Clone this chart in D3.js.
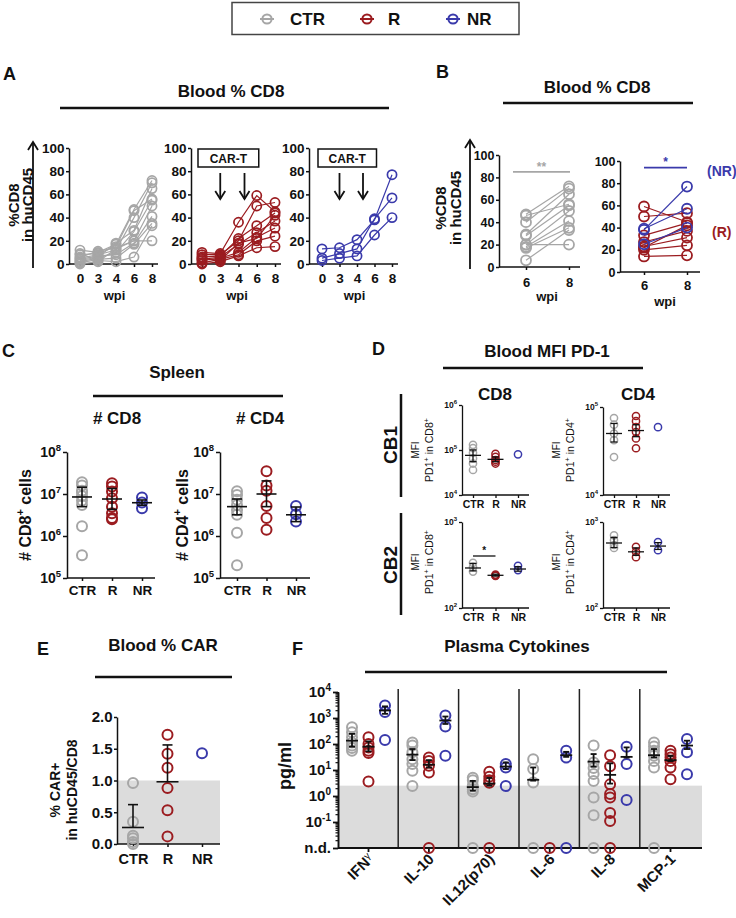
<!DOCTYPE html>
<html><head><meta charset="utf-8">
<script src="https://cdn.jsdelivr.net/npm/d3@7/dist/d3.min.js"></script>
<style>
html,body{margin:0;padding:0;background:#fff;}
svg{display:block;font-family:"Liberation Sans",Arial,Helvetica,sans-serif;}
</style></head><body>
<svg id="chart" width="736" height="918"></svg>
<script>
// ================= DATA =================
const groups = ["CTR","R","NR"];
const groupColors = ["#a6a6a6","#9b1c20","#3a3aab"];

// A / B : %CD8 in huCD45, one row per mouse, columns = weeks post injection
const wpi = ["0","3","4","6","8"];
const pctTicks = [0,20,40,60,80,100];
const ctrCD8 = [
  [12,10,17,47,72],
  [8,9,15,46,56],
  [5,8,12,40,70],
  [3,6,18,29,65],
  [2,5,10,28,55],
  [6,11,14,20,50],
  [4,7,8,18,41],
  [1,4,5,17,35],
  [9,3,2,6,33],
  [0,2,13,20,20]
];
const rCD8 = [
  [10,9,36,59,45],
  [8,8,20,50,53],
  [6,7,22,33,44],
  [4,6,17,27,37],
  [3,5,10,23,31],
  [1,4,8,20,24],
  [0,2,7,14,15],
  [5,3,18,22,42]
];
const nrCD8 = [
  [13,14,21,38,77],
  [5,9,13,39,57],
  [3,5,7,25,40]
];
const wkB = ["6","8"];

// C : spleen cell counts
const spleenTicks = [1e5,1e6,1e7,1e8];
const spleenCD8_CTR = [1.9e7,1.6e7,1.2e7,1.1e7,9e6,7e6,5.5e6,1.7e6,3.5e5];
const spleenCD8_R = [1.8e7,1.5e7,1.15e7,7.9e6,5e6,3.5e6,2.7e6,2.5e6];
const spleenCD8_NR = [8.3e6,6.3e6,4.6e6];
const spleenCD8Mean = [8.5e6,7.6e6,6.2e6];
const spleenCD8Lo = [5e6,4.3e6,5.4e6];
const spleenCD8Hi = [1.45e7,1.35e7,7.2e6];
const spleenCD4_CTR = [1.17e7,9.5e6,7.3e6,5.5e6,4.1e6,3.2e6,1.2e6,2e5];
const spleenCD4_R = [3.5e7,1.6e7,1.2e7,5.2e6,2.7e6,1.4e6];
const spleenCD4_NR = [5.2e6,3.3e6,2.2e6];
const spleenCD4Mean = [5e6,1e7,3.2e6];
const spleenCD4Lo = [3.2e6,5e6,2.2e6];
const spleenCD4Hi = [7.6e6,2.05e7,4.9e6];

// D : PD-1 MFI
const cb1CD8_CTR = [1.3e5,1.1e5,8.7e4,6.5e4,5e4,3.6e4];
const cb1CD8_R = [8.2e4,7e4,6e4,5.5e4,5e4];
const cb1CD8_NR = [8e4];
const cb1CD8Mean = [7.6e4,6.2e4,null];
const cb1CD8Lo = [5.5e4,5.5e4,null];
const cb1CD8Hi = [1.0e5,7e4,null];
const cb1CD4_CTR = [7.5e4,6.3e4,5e4,4.2e4,2.7e4];
const cb1CD4_R = [7.9e4,6.9e4,5.9e4,5.2e4,4.4e4,3.4e4];
const cb1CD4_NR = [5.9e4];
const cb1CD4Mean = [5e4,5.4e4,null];
const cb1CD4Lo = [4e4,4.6e4,null];
const cb1CD4Hi = [6.5e4,6.3e4,null];
const cb2CD8_CTR = [335,300,265];
const cb2CD8_R = [245,240,236];
const cb2CD8_NR = [310,276];
const cb2CD8Mean = [292,240,284];
const cb2CD8Lo = [270,235,268];
const cb2CD8Hi = [330,247,302];
const cb2CD4_CTR = [700,615,540,500];
const cb2CD4_R = [515,450,390];
const cb2CD4_NR = [585,470];
const cb2CD4Mean = [570,450,525];
const cb2CD4Lo = [505,410,480];
const cb2CD4Hi = [660,500,575];

// E : blood % CAR
const carTicks = [0,0.5,1,1.5,2];
const carThreshold = 1.0;
const carCTR = [0.96,0.35,0.13,0.09,0.03,0.0];
const carR = [1.72,1.42,1.2,0.88,0.53,0.12];
const carNR = [1.43];
const carMean = [0.26,0.98,null];
const carHi = [0.62,1.56,null];

// F : plasma cytokines (pg/ml), 0 = not detected
const cytokines = ["IFNγ","IL-10","IL12(p70)","IL-6","IL-8","MCP-1"];
const detectionLimit = 2.5;
const cytoTicks = [0.01,0.1,1,10,100,1000,10000];
const cytoCTR = [
  [445,282,180,115,87,70,55],
  [115,87,48,26,17,9.3,2.4],
  [5,4,2.5,1.8,1.5,0],
  [26,11,3.3,0],
  [87,19.5,12,7,3.8,0.87,0.18,0],
  [115,80,55,35,22,12.5,0]
];
const cytoR = [
  [180,100,74,55,45,3.6],
  [30,22,14.5,8,0],
  [8.5,5.5,4,3.2,0],
  [0],
  [37,14,2.8,1.2,0.87,0.22,0.11,0],
  [55,40,30,22,12.5,4.4]
];
const cytoNR = [
  [3000,1700,142],
  [1250,470,35],
  [17,12.5,2.4],
  [55,30,0],
  [79,17,0.7],
  [155,48,6.9]
];
const cytoMeanCTR = [135,39,2.2,4.2,21,37];
const cytoLoCTR = [79,24,1.6,3.9,13.6,30];
const cytoHiCTR = [245,64,3.8,12.5,41,64];
const cytoMeanR = [79,16,3.0,null,6.5,24];
const cytoLoR = [52,12.5,2.5,null,3,22];
const cytoHiR = [126,24,5,null,18,35];
const cytoMeanNR = [1950,800,13.6,37,32,87];
const cytoLoNR = [1450,590,10.8,32,30,64];
const cytoHiNR = [2800,1140,19.5,50,74,134];

// ================= HELPERS =================
const svg = d3.select("#chart");
const INK = "#111";
svg.append("rect").attr("width",736).attr("height",918).attr("fill","#fff");

function txt(x,y,s,fs,anchor="middle",weight="bold",fill=INK){
  return svg.append("text").attr("x",x).attr("y",y).attr("font-size",fs)
    .attr("text-anchor",anchor).attr("font-weight",weight).attr("fill",fill).text(s);
}
function rich(parent,parts,fs,opts={}){
  const t = parent.append("text").attr("x",opts.x||0).attr("y",opts.y||0).attr("font-size",fs)
    .attr("text-anchor",opts.anchor||"middle").attr("font-weight",opts.weight||"bold").attr("fill",opts.fill||INK);
  if(opts.transform) t.attr("transform",opts.transform);
  let raised=false;
  parts.forEach(p=>{
    const sup = typeof p !== "string";
    const ts = t.append("tspan").text(sup ? p.sup : p);
    if(sup){ ts.attr("font-size",fs*0.68); if(!raised){ ts.attr("dy",-fs*0.42); raised=true; } }
    else if(raised){ ts.attr("dy",fs*0.42); raised=false; }
  });
  return t;
}
function hrule(x1,x2,y,sw=2.5,color=INK){
  svg.append("line").attr("x1",x1).attr("x2",x2).attr("y1",y).attr("y2",y).attr("stroke",color).attr("stroke-width",sw);
}
function vrule(x,y1,y2,sw=2.5,color=INK){
  svg.append("line").attr("x1",x).attr("x2",x).attr("y1",y1).attr("y2",y2).attr("stroke",color).attr("stroke-width",sw);
}
function styleAxis(g,fs,sw=1.5){
  g.attr("font-family",null).attr("font-size",fs).attr("font-weight","bold");
  g.selectAll(".domain").attr("stroke",INK).attr("stroke-width",sw);
  g.selectAll(".tick line").attr("stroke",INK).attr("stroke-width",sw);
  g.selectAll(".tick text").attr("fill",INK);
  return g;
}
function linearYAxis(axisX,y,ticks,fs,fmt){
  const ax = d3.axisLeft(y).tickValues(ticks).tickSize(3).tickSizeOuter(0).tickPadding(1.5);
  if(fmt) ax.tickFormat(fmt);
  const g = svg.append("g").attr("transform",`translate(${axisX},0)`).call(ax);
  return styleAxis(g,fs);
}
function logYAxis(axisX,y,ticks,fs,supFs,tick=4,nd=false,sw=1.5){
  const g = svg.append("g").attr("transform",`translate(${axisX},0)`)
    .call(d3.axisLeft(y).tickValues(ticks).tickSize(tick).tickSizeOuter(0).tickPadding(2).tickFormat(()=>""));
  styleAxis(g,fs,sw);
  g.selectAll(".tick text").each(function(d){
    const t = d3.select(this);
    if(nd && d===ticks[0]){ t.text("n.d."); return; }
    t.append("tspan").text("10");
    t.append("tspan").attr("dy",-fs*0.45).attr("font-size",supFs).text(String(Math.round(Math.log10(d))));
  });
  return g;
}
function catXAxis(x0,x1,yPos,scale,fs,labelY,tick=3,sw=1.5){
  const g = svg.append("g").attr("transform",`translate(0,${yPos})`)
    .call(d3.axisBottom(scale).tickSize(tick).tickSizeOuter(0));
  styleAxis(g,fs,sw);
  g.select(".domain").remove();
  g.append("line").attr("x1",x0).attr("x2",x1).attr("stroke",INK).attr("stroke-width",sw);
  g.selectAll(".tick text").attr("y",labelY).attr("dy",null);
  return g;
}
function upArrow(x,y1,y2){
  vrule(x,y1,y2,1.8);
  svg.append("path").attr("d",`M${x-5},${y2+8}L${x},${y2}L${x+5},${y2+8}`).attr("fill","none").attr("stroke",INK).attr("stroke-width",1.8);
}
function downArrow(x,y1,y2){
  vrule(x,y1,y2,1.8);
  svg.append("path").attr("d",`M${x-5},${y2-8}L${x},${y2}L${x+5},${y2-8}`).attr("fill","none").attr("stroke",INK).attr("stroke-width",1.8);
}
function dots(xs,y,arrays,r,sw){
  arrays.forEach((arr,i)=>{
    svg.append("g").selectAll("circle").data(arr).join("circle")
      .attr("cx",xs(groups[i])).attr("cy",d=>y(d)).attr("r",r)
      .attr("fill","none").attr("stroke",groupColors[i]).attr("stroke-width",sw);
  });
}
function errs(xs,y,mean,lo,hi,half,cap,sw){
  mean.forEach((m,i)=>{
    if(m==null) return;
    const cx = xs(groups[i]);
    const g = svg.append("g").attr("stroke",INK).attr("stroke-width",sw);
    g.append("line").attr("x1",cx-half).attr("x2",cx+half).attr("y1",y(m)).attr("y2",y(m));
    const top = hi && hi[i]!=null ? hi[i] : m;
    const bot = lo && lo[i]!=null ? lo[i] : m;
    g.append("line").attr("x1",cx).attr("x2",cx).attr("y1",y(top)).attr("y2",y(bot));
    if(top!==m) g.append("line").attr("x1",cx-cap).attr("x2",cx+cap).attr("y1",y(top)).attr("y2",y(top));
    if(bot!==m) g.append("line").attr("x1",cx-cap).attr("x2",cx+cap).attr("y1",y(bot)).attr("y2",y(bot));
  });
}

// ================= LEGEND =================
const legendMarkX = [267,367,453];
const legendTextX = [290,388,467];
svg.append("rect").attr("x",232).attr("y",2.5).attr("width",287).attr("height",32)
  .attr("fill","none").attr("stroke","#444").attr("stroke-width",1.5);
groups.forEach((g,i)=>{
  const cx = legendMarkX[i];
  svg.append("line").attr("x1",cx-7).attr("x2",cx+7).attr("y1",19).attr("y2",19).attr("stroke",groupColors[i]).attr("stroke-width",2);
  svg.append("circle").attr("cx",cx).attr("cy",19).attr("r",4.6).attr("fill","none").attr("stroke",groupColors[i]).attr("stroke-width",2);
  txt(legendTextX[i],25,g,17,"start");
});

// ================= PANEL TITLES =================
txt(3,80,"A",18,"start"); txt(231,97,"Blood % CD8",17); hrule(60,389,108);
txt(436,78,"B",18,"start"); txt(597,93,"Blood % CD8",17); hrule(503,693,103);
txt(2,357,"C",18,"start"); txt(177,378,"Spleen",17); hrule(93,283,396);
txt(117,424,"# CD8",17); txt(260,424,"# CD4",17);
txt(372,355,"D",18,"start"); txt(547,357,"Blood MFI PD-1",17); hrule(443,643,368);
txt(495,400,"CD8",17); txt(638,400,"CD4",17);
txt(37,655,"E",18,"start"); txt(163,651,"Blood % CAR",17); hrule(95,232,677);
txt(292,655,"F",18,"start"); txt(517,652,"Plasma Cytokines",17); hrule(365,667,672);

// ================= PANEL A =================
const yA = d3.scaleLinear().domain([0,100]).range([264,148]);
upArrow(33,268,142);
rich(svg,["%CD8"],15,{transform:"translate(19,205) rotate(-90)"});
rich(svg,["in huCD45"],15,{transform:"translate(33,205) rotate(-90)"});
const aCfg = [
  {axisX:69, end:158, range:[80,152], data:ctrCD8, c:0, cart:false},
  {axisX:191, end:281, range:[202,275], data:rCD8, c:1, cart:true},
  {axisX:309, end:398, range:[322,392], data:nrCD8, c:2, cart:true}
];
aCfg.forEach(cfg=>{
  const x = d3.scalePoint().domain(wpi).range(cfg.range);
  linearYAxis(cfg.axisX,yA,pctTicks,13.5);
  catXAxis(cfg.axisX,cfg.end,264,x,13.5,19);
  txt((cfg.axisX+cfg.end)/2+1,300,"wpi",13);
  const line = d3.line().x((d,i)=>x(wpi[i])).y(d=>yA(d));
  svg.append("g").selectAll("path").data(cfg.data).join("path").attr("d",line)
    .attr("fill","none").attr("stroke",groupColors[cfg.c]).attr("stroke-width",1.2);
  svg.append("g").selectAll("circle").data(cfg.data.flatMap(s=>s.map((v,i)=>({v,i})))).join("circle")
    .attr("cx",d=>x(wpi[d.i])).attr("cy",d=>yA(d.v)).attr("r",4.6)
    .attr("fill","none").attr("stroke",groupColors[cfg.c]).attr("stroke-width",1.7);
  if(cfg.cart){
    const bx0 = x("0")-4, bx1 = x("6")+2;
    svg.append("rect").attr("x",bx0).attr("y",149).attr("width",bx1-bx0).attr("height",18)
      .attr("fill","#fff").attr("stroke",INK).attr("stroke-width",1.5);
    txt((bx0+bx1)/2,162.5,"CAR-T",12);
    [x("3"), x("4")+6].forEach(ax=>downArrow(ax,173,199));
  }
});

// ================= PANEL B =================
upArrow(470,269,140);
rich(svg,["%CD8"],15,{transform:"translate(446,208) rotate(-90)"});
rich(svg,["in huCD45"],15,{transform:"translate(461,208) rotate(-90)"});
const yB1 = d3.scaleLinear().domain([0,100]).range([267,155]);
const yB2 = d3.scaleLinear().domain([0,100]).range([272,161]);
const xB1 = d3.scalePoint().domain(wkB).range([526,569]);
const xB2 = d3.scalePoint().domain(wkB).range([644,687]);
linearYAxis(499,yB1,pctTicks,12.5);
catXAxis(499,580,267,xB1,13,20);
txt(547,301,"wpi",13);
linearYAxis(620,yB2,pctTicks,12.5);
catXAxis(620,700,272,xB2,13,18);
txt(665,306,"wpi",13);
function pairs(series){ return series.map(s=>[s[3],s[4]]); }
function drawPairs(x,y,series,color){
  const line = d3.line().x((d,i)=>x(wkB[i])).y(d=>y(d));
  svg.append("g").selectAll("path").data(pairs(series)).join("path").attr("d",line)
    .attr("fill","none").attr("stroke",color).attr("stroke-width",1.2);
  svg.append("g").selectAll("circle").data(pairs(series).flatMap(p=>p.map((v,i)=>({v,i})))).join("circle")
    .attr("cx",d=>x(wkB[d.i])).attr("cy",d=>y(d.v)).attr("r",5)
    .attr("fill","none").attr("stroke",color).attr("stroke-width",1.8);
}
drawPairs(xB1,yB1,ctrCD8,groupColors[0]);
drawPairs(xB2,yB2,rCD8,groupColors[1]);
drawPairs(xB2,yB2,nrCD8,groupColors[2]);
hrule(xB1("6")-13,xB1("8")+1,yB1(85),1.8,groupColors[0]);
txt((xB1("6")+xB1("8"))/2-6,yB1(85)-1,"**",12,"middle","bold",groupColors[0]);
hrule(xB2("6"),xB2("8"),yB2(94),1.8,groupColors[2]);
txt((xB2("6")+xB2("8"))/2,yB2(94)-2,"*",12,"middle","bold",groupColors[2]);
txt(707,176,"(NR)",14,"start","bold",groupColors[2]);
txt(712,237,"(R)",14,"start","bold",groupColors[1]);

// ================= PANEL C =================
const yC = d3.scaleLog().domain([1e5,1e8]).range([578,452]);
[
  {axisX:67,end:155,range:[82,142],arr:[spleenCD8_CTR,spleenCD8_R,spleenCD8_NR],m:spleenCD8Mean,lo:spleenCD8Lo,hi:spleenCD8Hi,lab:["# CD8",{sup:"+"}," cells"],lx:31},
  {axisX:220,end:310,range:[237,296],arr:[spleenCD4_CTR,spleenCD4_R,spleenCD4_NR],m:spleenCD4Mean,lo:spleenCD4Lo,hi:spleenCD4Hi,lab:["# CD4",{sup:"+"}," cells"],lx:188}
].forEach(cfg=>{
  const xs = d3.scalePoint().domain(groups).range(cfg.range);
  logYAxis(cfg.axisX,yC,spleenTicks,14,9.5,4);
  catXAxis(cfg.axisX,cfg.end,578,xs,13.5,17);
  dots(xs,yC,cfg.arr,5,2);
  errs(xs,yC,cfg.m,cfg.lo,cfg.hi,10,5,1.6);
  rich(svg,cfg.lab,16,{transform:`translate(${cfg.lx},515) rotate(-90)`});
});

// ================= PANEL D =================
const yD1a = d3.scaleLog().domain([1e4,1e6]).range([495,405]);
const yD1b = d3.scaleLog().domain([1e4,1e5]).range([495,407]);
const yD2 = d3.scaleLog().domain([1e2,1e3]).range([608,522]);
const dCfg = [
  {axisX:462,end:529,range:[473,518],y:yD1a,ticks:[1e4,1e5,1e6],base:495,arr:[cb1CD8_CTR,cb1CD8_R,cb1CD8_NR],m:cb1CD8Mean,lo:cb1CD8Lo,hi:cb1CD8Hi,cell:"CD8",cy:450},
  {axisX:603,end:670,range:[614,658],y:yD1b,ticks:[1e4,1e5],base:495,arr:[cb1CD4_CTR,cb1CD4_R,cb1CD4_NR],m:cb1CD4Mean,lo:cb1CD4Lo,hi:cb1CD4Hi,cell:"CD4",cy:450},
  {axisX:462,end:529,range:[473,518],y:yD2,ticks:[1e2,1e3],base:608,arr:[cb2CD8_CTR,cb2CD8_R,cb2CD8_NR],m:cb2CD8Mean,lo:cb2CD8Lo,hi:cb2CD8Hi,cell:"CD8",cy:562},
  {axisX:603,end:670,range:[614,658],y:yD2,ticks:[1e2,1e3],base:608,arr:[cb2CD4_CTR,cb2CD4_R,cb2CD4_NR],m:cb2CD4Mean,lo:cb2CD4Lo,hi:cb2CD4Hi,cell:"CD4",cy:562}
];
dCfg.forEach((cfg,k)=>{
  const xs = d3.scalePoint().domain(groups).range(cfg.range);
  logYAxis(cfg.axisX,cfg.y,cfg.ticks,8.5,6,3,false,1.3);
  catXAxis(cfg.axisX,cfg.end,cfg.base,xs,10.5,13,3,1.3);
  dots(xs,cfg.y,cfg.arr,3.6,1.5);
  errs(xs,cfg.y,cfg.m,cfg.lo,cfg.hi,8,3.5,1.3);
  rich(svg,["MFI"],10,{weight:"normal",transform:`translate(${cfg.axisX-43},${cfg.cy}) rotate(-90)`});
  rich(svg,["PD1",{sup:"+"}," in "+cfg.cell,{sup:"+"}],10.5,{weight:"normal",transform:`translate(${cfg.axisX-29},${cfg.cy}) rotate(-90)`});
  if(k===2){
    const sy = 556;
    hrule(xs("CTR"),xs("R"),sy,1.3);
    txt((xs("CTR")+xs("R"))/2,sy-2,"*",10);
  }
});
rich(svg,["CB1"],19,{transform:"translate(397,445) rotate(-90)"});
rich(svg,["CB2"],19,{transform:"translate(397,565) rotate(-90)"});
vrule(401,394,497,2.5);
vrule(401,513,615,2.5);

// ================= PANEL E =================
const yE = d3.scaleLinear().domain([0,2]).range([844,717]);
const xE = d3.scalePoint().domain(groups).range([133,202]);
svg.append("rect").attr("x",117).attr("y",yE(carThreshold)).attr("width",220-117).attr("height",yE(0)-yE(carThreshold)).attr("fill","#dcdcdc");
linearYAxis(117,yE,carTicks,15,d3.format(".1f"));
catXAxis(117,220,844,xE,14.5,20);
dots(xE,yE,[carCTR,carR,carNR],5,2);
errs(xE,yE,carMean,null,carHi,11,5,1.6);
rich(svg,["% CAR+"],14,{transform:"translate(60,790) rotate(-90)"});
rich(svg,["in huCD45/CD8"],14,{transform:"translate(77,790) rotate(-90)"});

// ================= PANEL F =================
const yF = d3.scaleLog().domain([0.01,1e4]).range([848,692]);
const xF = d3.scalePoint().domain(cytokines).range([368,670]);
const offF = d3.scalePoint().domain(groups).range([-16,17]);
svg.append("rect").attr("x",338).attr("y",yF(detectionLimit)).attr("width",702-338).attr("height",848-yF(detectionLimit)).attr("fill","#dcdcdc");
d3.pairs(cytokines).forEach(([a,b])=>vrule((xF(a)+xF(b))/2,689,848,1.5,"#222"));
const minorF = d3.range(-2,4).flatMap(e=>d3.range(2,10).map(k=>k*Math.pow(10,e)));
styleAxis(svg.append("g").attr("transform","translate(338,0)")
  .call(d3.axisLeft(yF).tickValues(minorF).tickSize(2.5).tickFormat(()=>"")),10,1.2);
logYAxis(338,yF,cytoTicks,15,10,5,true,1.8);
const fx = catXAxis(338,702,848,xF,15,0,4,1.8);
fx.selectAll(".tick text").text("").attr("text-anchor","end").attr("transform","translate(6,12) rotate(-45)")
  .each(function(d){
    const t = d3.select(this);
    if(d==="IFNγ"){ t.append("tspan").text("IFN"); t.append("tspan").attr("font-size",10).attr("font-weight","normal").attr("dy",-5).text("γ"); }
    else t.text(d);
  });
const cytoSets = [cytoCTR,cytoR,cytoNR];
const cytoStats = [[cytoMeanCTR,cytoLoCTR,cytoHiCTR],[cytoMeanR,cytoLoR,cytoHiR],[cytoMeanNR,cytoLoNR,cytoHiNR]];
cytoSets.forEach((set,gi)=>{
  svg.append("g").selectAll("circle")
    .data(set.flatMap((vals,ci)=>vals.map(v=>({v,ci})))).join("circle")
    .attr("cx",d=>xF(cytokines[d.ci])+offF(groups[gi]))
    .attr("cy",d=>yF(d.v>0?d.v:0.01)).attr("r",5)
    .attr("fill","none").attr("stroke",groupColors[gi]).attr("stroke-width",2);
});
cytoStats.forEach(([m,lo,hi],gi)=>{
  m.forEach((mv,ci)=>{
    if(mv==null) return;
    const cx = xF(cytokines[ci])+offF(groups[gi]);
    const g = svg.append("g").attr("stroke",INK).attr("stroke-width",1.8);
    g.append("line").attr("x1",cx-6).attr("x2",cx+6).attr("y1",yF(mv)).attr("y2",yF(mv));
    g.append("line").attr("x1",cx).attr("x2",cx).attr("y1",yF(hi[ci])).attr("y2",yF(lo[ci]));
    [hi[ci],lo[ci]].forEach(v=>g.append("line").attr("x1",cx-3).attr("x2",cx+3).attr("y1",yF(v)).attr("y2",yF(v)));
  });
});
rich(svg,["pg/ml"],18,{transform:"translate(291,766) rotate(-90)"});
</script></body></html>
